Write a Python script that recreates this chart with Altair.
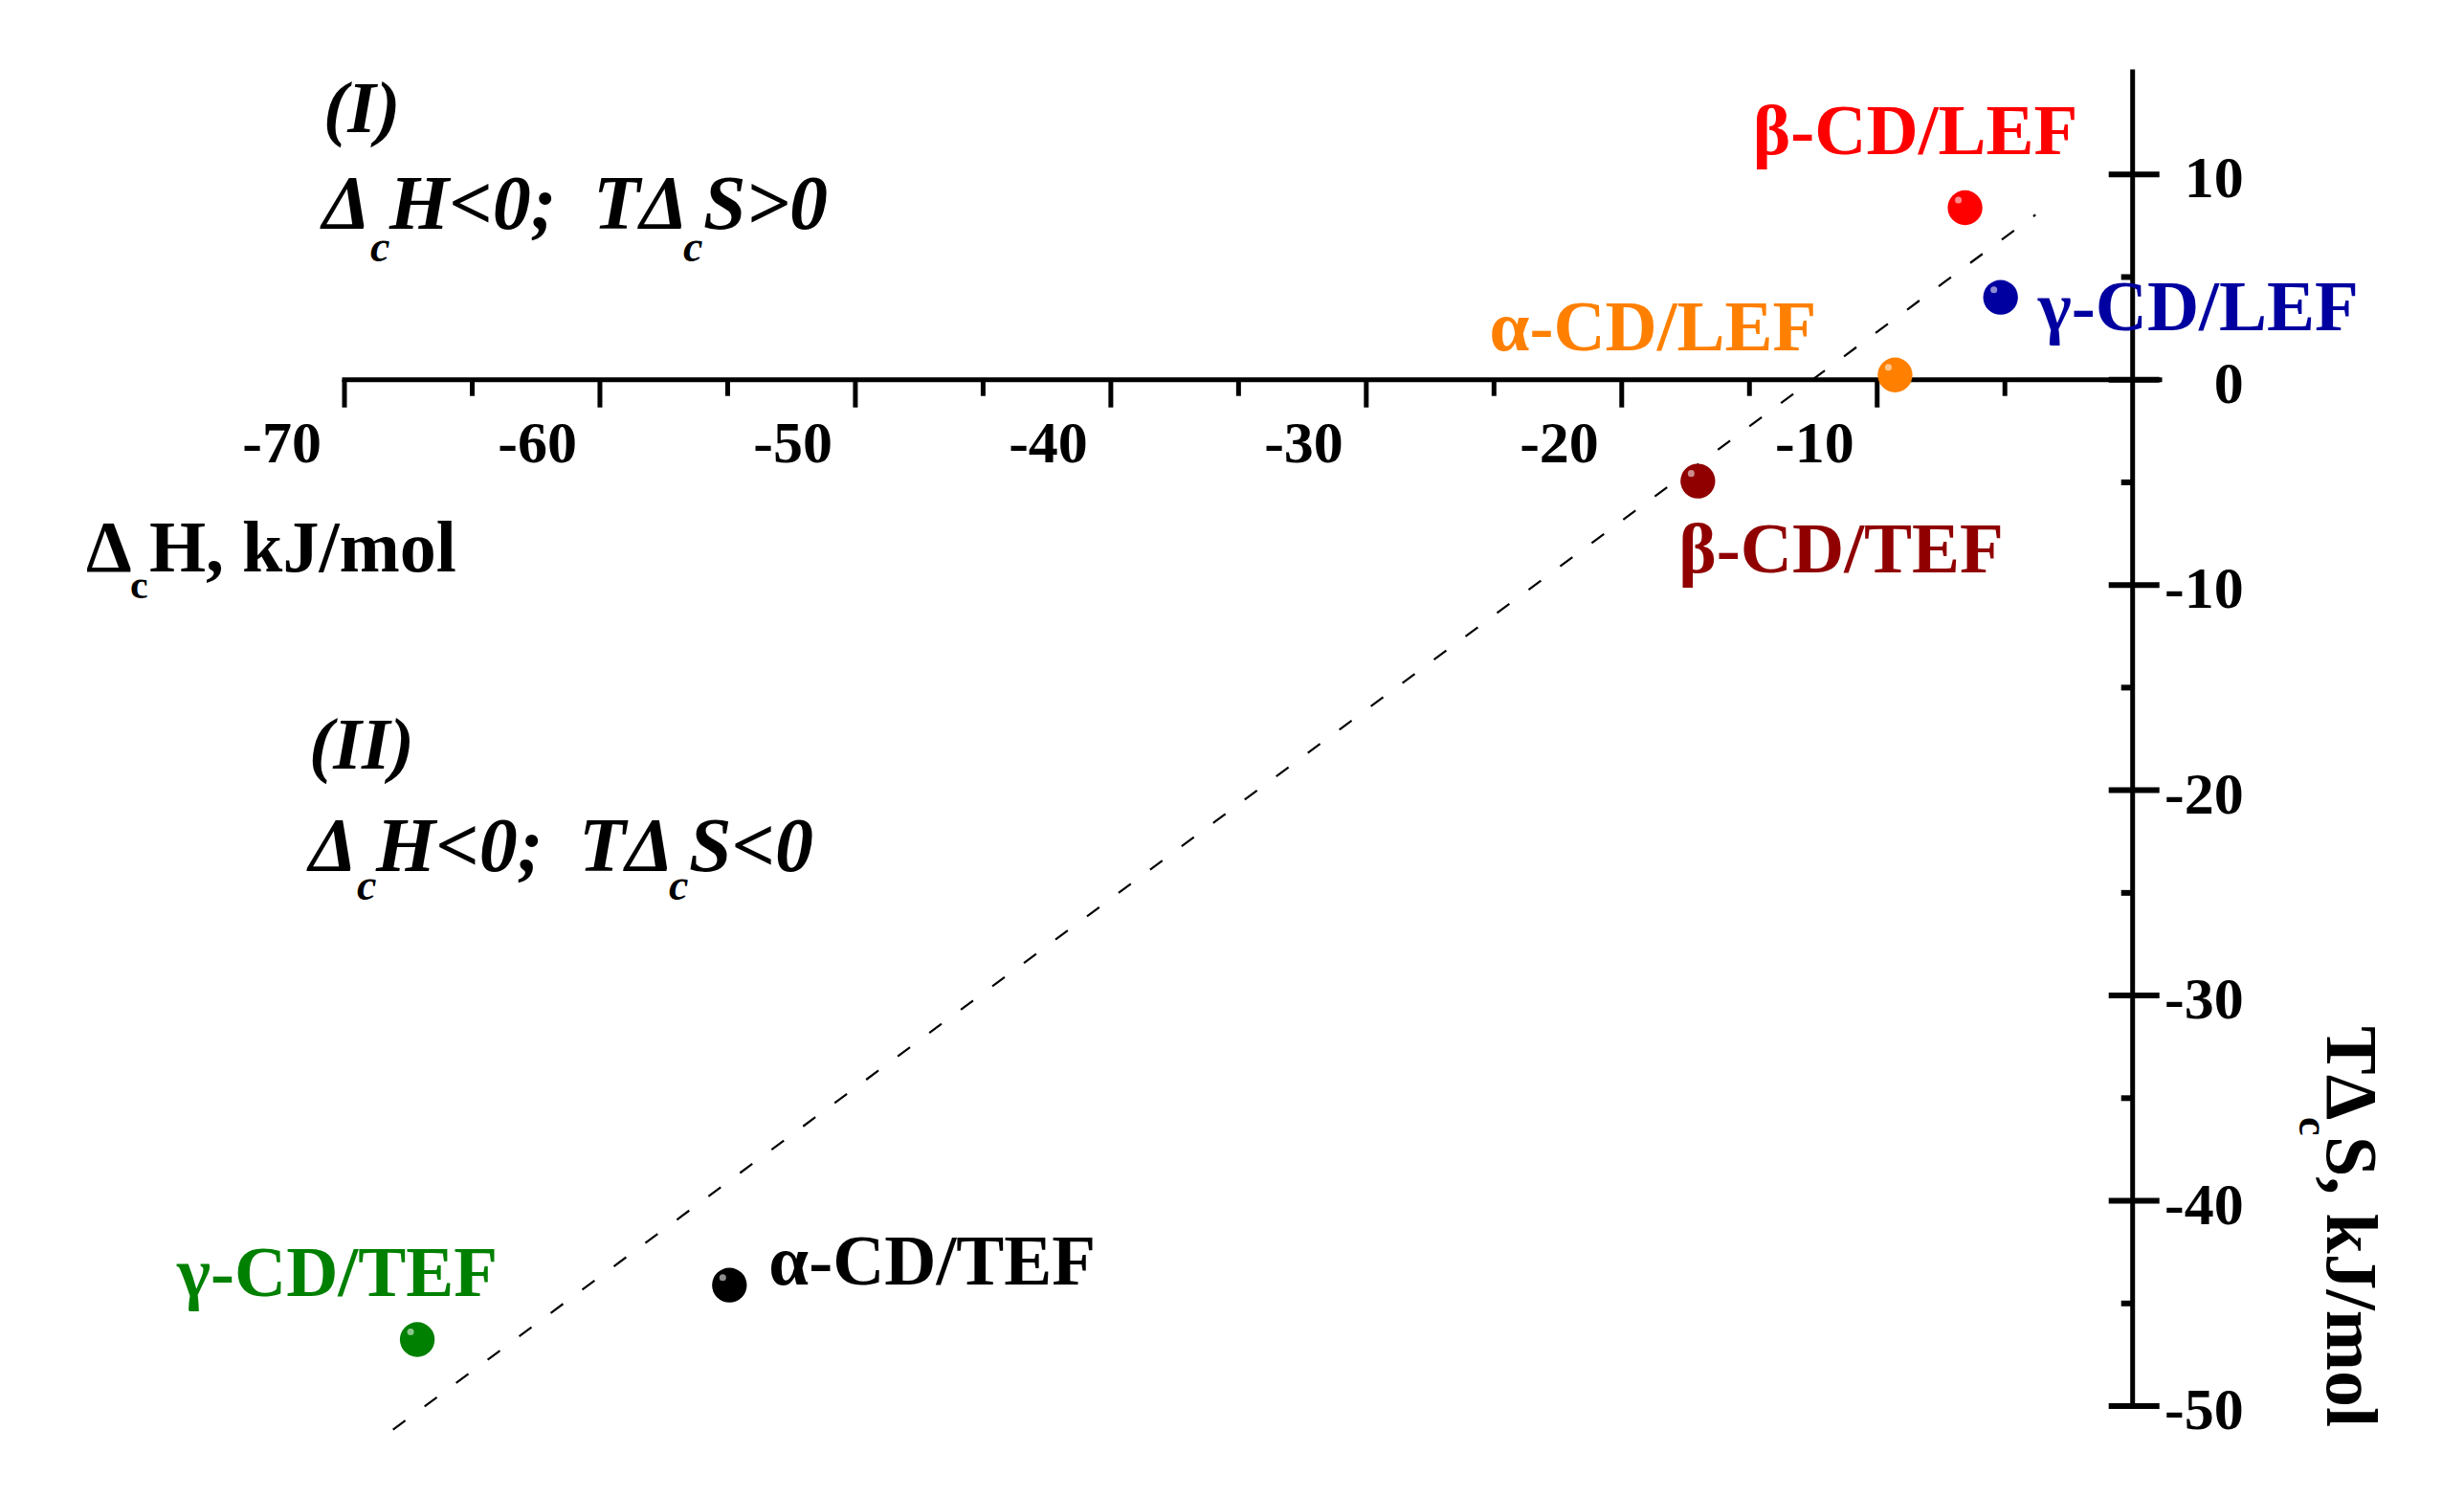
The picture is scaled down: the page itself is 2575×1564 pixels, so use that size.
import altair as alt
import pandas as pd

# ---------------- data ----------------
names = ["β-CD/LEF", "γ-CD/LEF", "α-CD/LEF", "β-CD/TEF", "α-CD/TEF", "γ-CD/TEF"]
dH = [-6.56, -5.17, -9.30, -17.02, -54.93, -67.15]
TdS = [8.38, 4.01, 0.23, -4.94, -44.11, -46.76]
colors = ["#FF0000", "#0000A0", "#FF8000", "#900000", "#000000", "#008000"]

fit_dH = [-68.1, -3.8]
fit_TdS = [-51.15, 8.04]

x_major = [-70, -60, -50, -40, -30, -20, -10]
x_minor = [-65, -55, -45, -35, -25, -15, -5]
y_major = [-50, -40, -30, -20, -10, 0, 10]
y_minor = [-45, -35, -25, -15, -5, 5]

# ---------------- layout ----------------
FONT = "Liberation Serif"
W, H = 1897, 1394
XDOM = [-70, 1.06]
YDOM = [-50, 15]

xs = alt.Scale(domain=XDOM, nice=False, zero=False)
ys = alt.Scale(domain=YDOM, nice=False, zero=False)


def X(f):
    return alt.X(f, scale=xs, axis=None)


def Y(f):
    return alt.Y(f, scale=ys, axis=None)


pts = pd.DataFrame({"name": names, "dH": dH, "TdS": TdS})
fit = pd.DataFrame({"dH": fit_dH, "TdS": fit_TdS})
xmaj_df = pd.DataFrame({"v": x_major, "z": [0] * len(x_major)})
xmin_df = pd.DataFrame({"v": x_minor, "z": [0] * len(x_minor)})
ymaj_df = pd.DataFrame({"v": y_major, "z": [0] * len(y_major)})
ymin_df = pd.DataFrame({"v": y_minor, "z": [0] * len(y_minor)})
xline_df = pd.DataFrame({"a": [XDOM[0]], "b": [XDOM[1]], "z": [0]})
yline_df = pd.DataFrame({"a": [YDOM[0]], "b": [YDOM[1]], "z": [0]})
one = pd.DataFrame({"a": [0]})

# ---------------- axes (crossing at 0,0) ----------------
x_domain = alt.Chart(xline_df).mark_rule(strokeWidth=5, color="black", strokeCap="square").encode(
    x=X("a:Q"), x2="b:Q", y=Y("z:Q"))
y_domain = alt.Chart(yline_df).mark_rule(strokeWidth=5, color="black", strokeCap="square").encode(
    y=Y("a:Q"), y2="b:Q", x=X("z:Q"))

x_major_ticks = alt.Chart(xmaj_df).mark_rule(strokeWidth=5, color="black", y2Offset=29).encode(
    x=X("v:Q"), y=Y("z:Q"), y2="z:Q")
x_minor_ticks = alt.Chart(xmin_df).mark_rule(strokeWidth=5, color="black", y2Offset=17).encode(
    x=X("v:Q"), y=Y("z:Q"), y2="z:Q")
y_major_ticks = alt.Chart(ymaj_df).mark_rule(strokeWidth=6, color="black", xOffset=-25, x2Offset=28).encode(
    y=Y("v:Q"), x=X("z:Q"), x2="z:Q")
y_minor_ticks = alt.Chart(ymin_df).mark_rule(strokeWidth=6, color="black", x2Offset=-12).encode(
    y=Y("v:Q"), x=X("z:Q"), x2="z:Q")

x_labels = alt.Chart(xmaj_df).transform_calculate(lab="'' + datum.v").mark_text(
    font=FONT, fontSize=62, fontWeight="bold", color="black",
    align="right", baseline="alphabetic", dx=-24, dy=86,
).encode(x=X("v:Q"), y=Y("z:Q"), text="lab:N")
y_labels = alt.Chart(ymaj_df).transform_calculate(lab="'' + datum.v").mark_text(
    font=FONT, fontSize=62, fontWeight="bold", color="black",
    align="right", baseline="alphabetic", dx=116, dy=24,
).encode(y=Y("v:Q"), x=X("z:Q"), text="lab:N")

# ---------------- data marks ----------------
line = alt.Chart(fit).mark_line(
    strokeDash=[16, 25], strokeWidth=2.2, color="black", clip=False
).encode(x=X("dH:Q"), y=Y("TdS:Q"))

points = alt.Chart(pts).mark_point(
    shape="circle", filled=True, size=1320, opacity=1, strokeWidth=0
).encode(
    x=X("dH:Q"), y=Y("TdS:Q"),
    color=alt.Color("name:N", scale=alt.Scale(domain=names, range=colors), legend=None),
)

highlight = alt.Chart(pts).mark_point(
    shape="circle", filled=True, size=50, opacity=0.55, strokeWidth=0,
    color="white", xOffset=-7, yOffset=-8,
).encode(x=X("dH:Q"), y=Y("TdS:Q"))

# point labels: (align, dx, dy)
label_style = {
    "β-CD/LEF": ("center", -52, -56),
    "γ-CD/LEF": ("left", 39, 34),
    "α-CD/LEF": ("right", -82, -26),
    "β-CD/TEF": ("left", -20, 95),
    "α-CD/TEF": ("left", 41, -1),
    "γ-CD/TEF": ("right", 84, -46),
}
labels = []
for n, c in zip(names, colors):
    al, dx, dy = label_style[n]
    labels.append(
        alt.Chart(pts).transform_filter(alt.datum.name == n).mark_text(
            font=FONT, fontSize=75, fontWeight="bold", color=c,
            align=al, baseline="alphabetic", dx=dx, dy=dy,
        ).encode(x=X("dH:Q"), y=Y("TdS:Q"), text="name:N")
    )


def piece(s, x, y, size, italic=False, angle=0):
    kw = dict(
        text=s, font=FONT, fontSize=size, fontWeight="bold",
        fontStyle="italic" if italic else "normal",
        align="left", baseline="alphabetic", color="black",
    )
    if angle:
        kw["angle"] = angle
    return alt.Chart(one).mark_text(**kw).encode(x=alt.value(x), y=alt.value(y))


OX, OY = 360, 75  # page position of the plot origin


def P(px, py):
    return px - OX, py - OY


annots = []
# region I
annots.append(piece("(I)", *P(338, 138), 76, italic=True))
for s, px, py, sz in [("Δ", 337, 239, 80), ("c", 387, 273, 46), ("H<0;", 407, 239, 80),
                      ("TΔ", 620, 239, 80), ("c", 714, 273, 46), ("S>0", 735, 239, 80)]:
    annots.append(piece(s, *P(px, py), sz, italic=True))
# region II
annots.append(piece("(II)", *P(323, 803), 76, italic=True))
for s, px, py, sz in [("Δ", 323, 910, 80), ("c", 373, 940, 46), ("H<0;", 393, 910, 80),
                      ("TΔ", 605, 910, 80), ("c", 699, 940, 46), ("S<0", 720, 910, 80)]:
    annots.append(piece(s, *P(px, py), sz, italic=True))
# x-axis title
for s, px, py, sz in [("Δ", 90, 597, 76), ("c", 136, 625, 42), ("H, kJ/mol", 156, 597, 76)]:
    annots.append(piece(s, *P(px, py), sz))
# y-axis title (rotated)
for s, px, py, sz in [("TΔ", 2432, 1072, 76), ("c", 2403, 1167, 44), ("S, kJ/mol", 2432, 1187, 76)]:
    annots.append(piece(s, *P(px, py), sz, angle=90))

chart = alt.layer(
    line, x_domain, y_domain, x_major_ticks, x_minor_ticks, y_major_ticks, y_minor_ticks,
    x_labels, y_labels, points, highlight, *labels, *annots
).properties(
    width=W, height=H,
    autosize=alt.AutoSizeParams(type="none"),
    padding={"left": OX - 8, "top": OY - 8, "right": 2559 - (OX - 8) - W, "bottom": 1548 - (OY - 8) - H},
    background="white",
).configure_view(stroke=None)

chart.save("out.html", embed_options={"renderer": "svg", "actions": False})
